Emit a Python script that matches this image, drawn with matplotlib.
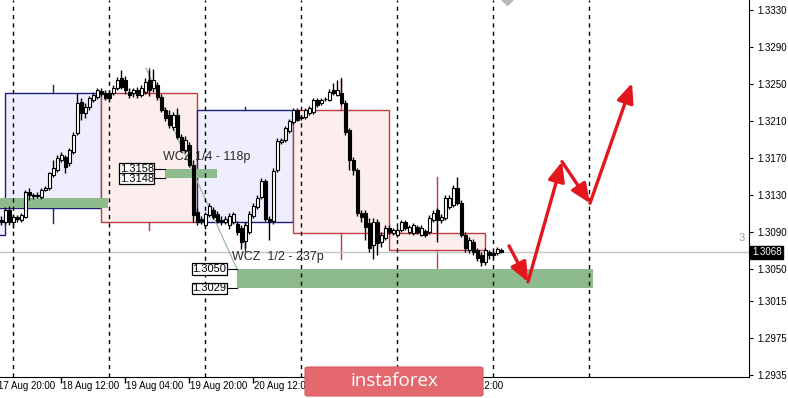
import matplotlib
matplotlib.use("Agg")
import matplotlib.pyplot as plt
import matplotlib.transforms as mtransforms
from matplotlib.patches import Rectangle, FancyArrowPatch, FancyBboxPatch
import numpy as np

plt.rcParams["font.family"] = ["Liberation Sans", "DejaVu Sans"]

# ── hourly bars (GBPUSD H1), index 0 = 17 Aug 20:00 ──
opens = [1.3103, 1.3101, 1.3114, 1.3101, 1.3106, 1.3103, 1.3106, 1.3133, 1.3130, 1.3129,
         1.3128, 1.3135, 1.3138, 1.3152, 1.3157, 1.3168, 1.3171, 1.3165, 1.3176, 1.3197,
         1.3231, 1.3219, 1.3225, 1.3233, 1.3236, 1.3242, 1.3240, 1.3240, 1.3240, 1.3246,
         1.3256, 1.3254, 1.3241, 1.3240, 1.3243, 1.3238, 1.3241, 1.3254, 1.3246, 1.3249,
         1.3236, 1.3222, 1.3216, 1.3204, 1.3216, 1.3193, 1.3179, 1.3184, 1.3162, 1.3112,
         1.3104, 1.3097, 1.3108, 1.3114, 1.3109, 1.3103, 1.3101, 1.3097, 1.3101, 1.3099,
         1.3094, 1.3080, 1.3090, 1.3107, 1.3117, 1.3128, 1.3145, 1.3104, 1.3102, 1.3157,
         1.3187, 1.3189, 1.3199, 1.3209, 1.3222, 1.3213, 1.3214, 1.3219, 1.3220, 1.3233,
         1.3229, 1.3234, 1.3233, 1.3243, 1.3238, 1.3240, 1.3229, 1.3200, 1.3168, 1.3157,
         1.3111, 1.3111, 1.3100, 1.3076, 1.3101, 1.3079, 1.3084, 1.3094, 1.3089, 1.3087,
         1.3092, 1.3101, 1.3090, 1.3089, 1.3095, 1.3087, 1.3091, 1.3090, 1.3103, 1.3114,
         1.3103, 1.3105, 1.3117, 1.3119, 1.3138, 1.3121, 1.3087, 1.3070, 1.3079, 1.3070,
         1.3065, 1.3057, 1.3068, 1.3067, 1.3067, 1.3070]
highs = [1.3107, 1.3117, 1.3118, 1.3109, 1.3108, 1.3111, 1.3135, 1.3138, 1.3132, 1.3133,
         1.3138, 1.3140, 1.3155, 1.3168, 1.3173, 1.3176, 1.3173, 1.3181, 1.3198, 1.3240,
         1.3235, 1.3229, 1.3237, 1.3241, 1.3246, 1.3246, 1.3243, 1.3243, 1.3249, 1.3258,
         1.3265, 1.3259, 1.3246, 1.3246, 1.3247, 1.3249, 1.3256, 1.3265, 1.3266, 1.3252,
         1.3239, 1.3225, 1.3222, 1.3220, 1.3224, 1.3196, 1.3194, 1.3187, 1.3168, 1.3116,
         1.3107, 1.3112, 1.3121, 1.3117, 1.3113, 1.3107, 1.3107, 1.3111, 1.3112, 1.3102,
         1.3097, 1.3101, 1.3113, 1.3121, 1.3130, 1.3148, 1.3147, 1.3107, 1.3159, 1.3192,
         1.3192, 1.3205, 1.3212, 1.3224, 1.3224, 1.3216, 1.3224, 1.3226, 1.3235, 1.3235,
         1.3235, 1.3236, 1.3245, 1.3251, 1.3254, 1.3256, 1.3233, 1.3202, 1.3171, 1.3159,
         1.3114, 1.3114, 1.3105, 1.3105, 1.3104, 1.3090, 1.3098, 1.3097, 1.3094, 1.3095,
         1.3103, 1.3103, 1.3098, 1.3100, 1.3098, 1.3097, 1.3093, 1.3108, 1.3114, 1.3116,
         1.3109, 1.3130, 1.3130, 1.3141, 1.3149, 1.3125, 1.3090, 1.3085, 1.3082, 1.3073,
         1.3068, 1.3073, 1.3071, 1.3069, 1.3074, 1.3073]
lows = [1.3098, 1.3099, 1.3097, 1.3094, 1.3101, 1.3101, 1.3105, 1.3125, 1.3126, 1.3127,
        1.3126, 1.3134, 1.3135, 1.3149, 1.3155, 1.3166, 1.3154, 1.3161, 1.3174, 1.3195,
        1.3211, 1.3213, 1.3222, 1.3231, 1.3234, 1.3237, 1.3233, 1.3232, 1.3238, 1.3243,
        1.3245, 1.3239, 1.3235, 1.3236, 1.3235, 1.3236, 1.3239, 1.3237, 1.3241, 1.3233,
        1.3220, 1.3210, 1.3202, 1.3200, 1.3191, 1.3176, 1.3175, 1.3160, 1.3101, 1.3097,
        1.3099, 1.3093, 1.3106, 1.3104, 1.3100, 1.3098, 1.3099, 1.3093, 1.3099, 1.3087,
        1.3072, 1.3073, 1.3088, 1.3105, 1.3115, 1.3126, 1.3102, 1.3081, 1.3099, 1.3155,
        1.3185, 1.3187, 1.3197, 1.3207, 1.3210, 1.3211, 1.3212, 1.3216, 1.3218, 1.3225,
        1.3227, 1.3232, 1.3232, 1.3238, 1.3237, 1.3227, 1.3195, 1.3157, 1.3152, 1.3107,
        1.3101, 1.3081, 1.3068, 1.3061, 1.3065, 1.3074, 1.3081, 1.3088, 1.3087, 1.3085,
        1.3090, 1.3092, 1.3088, 1.3087, 1.3088, 1.3086, 1.3085, 1.3088, 1.3101, 1.3079,
        1.3100, 1.3103, 1.3115, 1.3117, 1.3119, 1.3085, 1.3068, 1.3067, 1.3065, 1.3059,
        1.3053, 1.3054, 1.3061, 1.3062, 1.3065, 1.3067]
closes = [1.3101, 1.3114, 1.3101, 1.3106, 1.3104, 1.3108, 1.3133, 1.3130, 1.3129, 1.3130,
          1.3135, 1.3138, 1.3154, 1.3159, 1.3170, 1.3173, 1.3160, 1.3179, 1.3195, 1.3229,
          1.3219, 1.3225, 1.3235, 1.3238, 1.3243, 1.3239, 1.3235, 1.3235, 1.3246, 1.3254,
          1.3247, 1.3243, 1.3238, 1.3243, 1.3238, 1.3246, 1.3252, 1.3243, 1.3254, 1.3236,
          1.3222, 1.3213, 1.3206, 1.3216, 1.3193, 1.3179, 1.3189, 1.3162, 1.3108, 1.3101,
          1.3102, 1.3109, 1.3118, 1.3106, 1.3102, 1.3101, 1.3104, 1.3107, 1.3109, 1.3090,
          1.3079, 1.3098, 1.3109, 1.3118, 1.3127, 1.3145, 1.3104, 1.3102, 1.3156, 1.3188,
          1.3189, 1.3202, 1.3210, 1.3222, 1.3211, 1.3214, 1.3222, 1.3224, 1.3233, 1.3227,
          1.3233, 1.3234, 1.3241, 1.3240, 1.3243, 1.3229, 1.3198, 1.3168, 1.3157, 1.3111,
          1.3106, 1.3095, 1.3073, 1.3101, 1.3078, 1.3087, 1.3094, 1.3090, 1.3092, 1.3092,
          1.3101, 1.3094, 1.3095, 1.3098, 1.3090, 1.3094, 1.3087, 1.3105, 1.3111, 1.3103,
          1.3106, 1.3127, 1.3127, 1.3138, 1.3121, 1.3087, 1.3073, 1.3081, 1.3068, 1.3062,
          1.3057, 1.3070, 1.3065, 1.3065, 1.3072, 1.3068]
bar_start = 1  # first visible bar index

# daily candles drawn as boxes
day_start = [-22, 2, 26, 50, 74, 98]
day_end = [2, 26, 50, 74, 98, 122]
day_open = [1.3087, 1.3116, 1.3240, 1.3101, 1.3222, 1.3089]
day_close = [1.3116, 1.3240, 1.3101, 1.3222, 1.3089, 1.3070]
day_high = [None, 1.3249, 1.3267, 1.3225, 1.3256, 1.3149]
day_low = [None, 1.3100, 1.3092, 1.3068, 1.3061, 1.3047]

# green zones
zone_x0 = [-5, 42, 60]
zone_x1 = [27.75, 55, 149]
zone_top = [1.3127, 1.3158, 1.3050]
zone_bot = [1.3116, 1.3148, 1.3029]

day_separators = [4, 28, 52, 76, 100, 124, 148]
time_ticks = [0, 16, 32, 48, 64, 80, 96, 112]
time_labels = ["17 Aug 20:00", "18 Aug 12:00", "19 Aug 04:00", "19 Aug 20:00",
               "20 Aug 12:00", "21 Aug 04:00", "21 Aug 20:00", "24 Aug 12:00"]
price_ticks = [1.3330, 1.3290, 1.3250, 1.3210, 1.3170, 1.3130, 1.3090,
               1.3050, 1.3015, 1.2975, 1.2935]
last_price = 1.3068

# forecast path (red arrows)
path_x = [128, 132.75, 141.25, 148.25, 158.75]
path_y = [1.3075, 1.3036, 1.3166, 1.3121, 1.3251]

# trend line
trend_x = [37.25, 60]
trend_y = [1.3267, 1.3050]

BLUE_FILL = "#EEEEFF"
BLUE_EDGE = "#1E1E7A"
RED_FILL = "#FDEEEE"
RED_EDGE = "#C23A44"
GREEN = "#8DBB8D"
ARROW_RED = "#E3161E"

fig = plt.figure(figsize=(7.88, 3.98), dpi=100)
ax = fig.add_axes([0, 1 - 377 / 398, 749 / 788, 377 / 398])
ax.set_xlim(0.75, 188)
ax.set_ylim(1.29332, 1.33408)

for s, e, o, c, hi, lo in zip(day_start, day_end, day_open, day_close, day_high, day_low):
    bull = c > o
    fc, ec = (BLUE_FILL, BLUE_EDGE) if bull else (RED_FILL, RED_EDGE)
    ax.add_patch(Rectangle((s, min(o, c)), e - s, abs(c - o), facecolor=fc, edgecolor=ec,
                           linewidth=1, zorder=1))
    if hi is not None:
        mid = (s + e) / 2
        ax.plot([mid, mid], [max(o, c), hi], color=ec, lw=1, zorder=1)
        ax.plot([mid, mid], [min(o, c), lo], color=ec, lw=1, zorder=1)

for x0, x1, t, b in zip(zone_x0, zone_x1, zone_top, zone_bot):
    ax.add_patch(Rectangle((x0, b), x1 - x0, t - b, facecolor=GREEN, edgecolor="none", zorder=2))

ax.axhline(last_price, color="#C4C4C4", lw=1, zorder=2.5)
ax.plot(trend_x, trend_y, color="#9DB89D", lw=0.9, zorder=3)

for d in day_separators:
    ax.axvline(d, color="black", lw=1, linestyle=(0, (3, 3)), zorder=4)

# candles
xs = np.arange(bar_start, bar_start + len(closes))
ax.vlines(xs, lows, highs, color="black", lw=1, zorder=5)
for x, o, c in zip(xs, opens, closes):
    fc = "white" if c >= o else "black"
    ax.bar(x, abs(c - o), bottom=min(o, c), width=0.75, color=fc, edgecolor="black",
           linewidth=0.8, zorder=6)

for i in range(len(path_x) - 1):
    ax.add_patch(FancyArrowPatch((path_x[i], path_y[i]), (path_x[i + 1], path_y[i + 1]),
                                 arrowstyle="-|>,head_length=0.65,head_width=0.28",
                                 mutation_scale=18, color=ARROW_RED, lw=2.4,
                                 shrinkA=0, shrinkB=0, zorder=8))

ax.plot([127.5], [1.33425], marker="D", color="#B8B8B8", markersize=7, zorder=8, clip_on=True)


def price_tag(x_right, x_zone, price, dy):
    # dy nudges the box so two stacked tags touch instead of overlapping
    ax.text(x_right, price + dy, f"{price:.4f}", ha="right", va="center", fontsize=8, zorder=9,
            bbox=dict(boxstyle="square,pad=0.06", fc="white", ec="black", lw=0.9))
    ax.plot([x_right + 0.2, x_zone], [price, price], color="black", lw=0.8, zorder=9)


price_tag(39.2, 42, 1.3158, 0.00005)
price_tag(39.2, 42, 1.3148, -0.00005)
price_tag(57.3, 60, 1.3050, 0)
price_tag(57.3, 60, 1.3029, 0)

ax.text(41.6, 1.3171, "WCZ 1/4 - 118p", fontsize=9, color="#2A2A2A", va="center", ha="left", zorder=9)
ax.text(58.8, 1.3063, "WCZ  1/2 - 237p", fontsize=9, color="#2A2A2A", va="center", ha="left", zorder=9)
ax.text(185.5, 1.3083, "3", fontsize=8, color="#A0A0A0", va="center", ha="left", zorder=9)

for sp in ["top", "left"]:
    ax.spines[sp].set_visible(False)
ax.spines["right"].set_color("black")
ax.spines["bottom"].set_color("black")
ax.yaxis.tick_right()
ax.set_yticks(price_ticks)
ax.set_yticklabels([f"{p:.4f}" for p in price_ticks])
ax.tick_params(axis="y", direction="out", length=3, pad=3, labelsize=7, colors="black")
ax.set_xticks(time_ticks[1:])
ax.set_xticklabels([])
ax.tick_params(axis="x", direction="out", length=4, width=1)

trans = mtransforms.blended_transform_factory(ax.transData, ax.transAxes)
for t, lab in zip(time_ticks, time_labels):
    ax.text(t + 0.3, -0.025, lab, transform=trans, ha="left", va="center", fontsize=7,
            clip_on=False)

ytrans = mtransforms.blended_transform_factory(ax.transAxes, ax.transData)
ax.text(1.004, last_price, f"{last_price:.4f}", transform=ytrans, ha="left", va="center",
        fontsize=7, color="white", zorder=10,
        bbox=dict(boxstyle="square,pad=0.18", fc="black", ec="black"))

# watermark
fig.patches.append(FancyBboxPatch((305 / 788, 2 / 398), 178 / 788, 29 / 398,
                                  boxstyle="round,pad=0,rounding_size=0.004",
                                  transform=fig.transFigure, fc="#E4686D", ec="#D85A60",
                                  lw=0.8, zorder=20))
fig.text(394 / 788, 16.5 / 398, "instaforex", ha="center", va="center", fontsize=13.5,
         color="white", family=["Open Sans", "DejaVu Sans"], zorder=21)

fig.savefig("out.png", dpi=100, facecolor="white")
